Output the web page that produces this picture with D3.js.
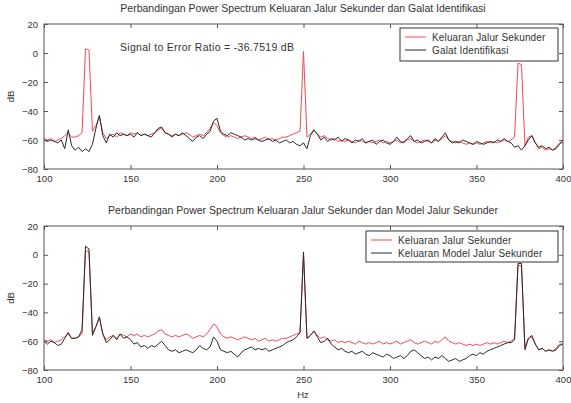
<!DOCTYPE html>
<html>
<head>
<meta charset="utf-8">
<script src="https://cdn.jsdelivr.net/npm/d3@7"></script>
<style>
  body { margin: 0; background: #fff; }
  svg { font-family: "Liberation Sans", Arial, sans-serif; }
</style>
</head>
<body>
<div class="graph"></div>
<script>
// frekuensi (Hz)
const freq = [100,102,104,106,108,110,112,114,116,118,120,122,124,126,128,130,132,134,136,138,
  140,142,144,146,148,150,152,154,156,158,160,162,164,166,168,170,172,174,176,178,
  180,182,184,186,188,190,192,194,196,198,200,202,204,206,208,210,212,214,216,218,
  220,222,224,226,228,230,232,234,236,238,240,242,244,246,248,250,252,254,256,258,
  260,262,264,266,268,270,272,274,276,278,280,282,284,286,288,290,292,294,296,298,
  300,302,304,306,308,310,312,314,316,318,320,322,324,326,328,330,332,334,336,338,
  340,342,344,346,348,350,352,354,356,358,360,362,364,366,368,370,372,374,376,378,
  380,382,384,386,388,390,392,394,396,398,400]

// Keluaran Jalur Sekunder (dB)
const keluaranSekunder = [-59,-60,-59,-61,-60,-59,-57,-55,-58,-58,-57,-55,3,2,-54,-50,-44,-55,-59,-57,
  -56,-58,-55,-56,-57,-55,-56,-55,-57,-56,-57,-56,-55,-53,-52,-55,-56,-57,-56,-57,
  -56,-55,-56,-58,-57,-56,-57,-55,-52,-48,-50,-55,-57,-58,-57,-58,-59,-58,-57,-58,
  -59,-58,-60,-59,-58,-60,-59,-60,-59,-58,-58,-57,-56,-55,-54,1,-58,-56,-53,-56,
  -58,-57,-59,-60,-59,-61,-60,-61,-60,-61,-62,-60,-61,-62,-61,-62,-61,-60,-62,-61,
  -62,-61,-60,-62,-61,-60,-59,-61,-62,-61,-60,-61,-62,-60,-61,-59,-57,-60,-61,-62,
  -61,-62,-63,-62,-63,-62,-63,-62,-61,-62,-61,-62,-61,-60,-61,-60,-58,-7,-8,-64,
  -58,-57,-62,-66,-65,-67,-66,-67,-65,-62,-62]

// Galat Identifikasi (dB)
const galatIdentifikasi = [-60,-61,-60,-61,-62,-60,-66,-53,-64,-67,-65,-68,-66,-68,-63,-52,-43,-57,-62,-56,
  -58,-55,-57,-56,-57,-56,-58,-55,-57,-56,-57,-58,-55,-52,-51,-55,-56,-58,-56,-57,
  -55,-57,-59,-61,-58,-57,-59,-56,-54,-47,-45,-54,-56,-57,-55,-56,-57,-58,-60,-59,
  -60,-59,-60,-61,-60,-59,-61,-60,-62,-61,-60,-62,-61,-63,-64,-62,-66,-57,-53,-56,
  -60,-58,-61,-59,-60,-58,-61,-59,-60,-62,-60,-61,-59,-62,-61,-60,-63,-61,-60,-62,
  -63,-61,-58,-61,-62,-59,-57,-61,-60,-62,-61,-60,-62,-59,-61,-58,-55,-60,-62,-61,
  -62,-60,-61,-62,-63,-61,-62,-63,-62,-61,-62,-60,-61,-59,-61,-62,-65,-64,-67,-64,
  -60,-57,-62,-65,-64,-66,-65,-67,-66,-63,-60]

// Keluaran Model Jalur Sekunder (dB)
const keluaranModel = [-60,-62,-60,-61,-63,-62,-58,-54,-58,-58,-57,-52,6,4,-56,-50,-43,-55,-61,-59,
  -56,-59,-55,-58,-57,-59,-62,-61,-64,-63,-65,-63,-64,-62,-60,-63,-66,-67,-66,-68,
  -67,-66,-67,-68,-66,-63,-65,-66,-64,-57,-60,-66,-67,-68,-67,-69,-71,-68,-66,-65,
  -64,-66,-65,-66,-65,-67,-66,-65,-64,-63,-61,-60,-59,-57,-54,2,-58,-56,-53,-57,
  -61,-60,-58,-62,-64,-66,-65,-67,-68,-67,-69,-68,-67,-69,-70,-68,-69,-70,-71,-69,
  -70,-72,-71,-70,-72,-70,-67,-66,-68,-70,-72,-71,-73,-71,-72,-70,-72,-74,-73,-72,
  -74,-73,-72,-70,-69,-70,-68,-69,-67,-66,-65,-64,-63,-62,-61,-61,-59,-6,-6,-66,
  -58,-56,-62,-66,-65,-67,-66,-67,-66,-63,-62]

const xTicks = [100, 150, 200, 250, 300, 350, 400]
const yTicks = [20, 0, -20, -40, -60, -80]

const width = 571, height = 403
const left = 44, right = 563
const merah = '#f04a58', hitam = '#2a2a2a'

const svg = d3.select('.graph')
  .append('svg')
  .attr('width', width)
  .attr('height', height)

const xScale = d3.scaleLinear().domain([100, 400]).range([left, right])

function panel(top, bottom, judul, seri, legendBox, xLabel) {
  const yScale = d3.scaleLinear().domain([-80, 20]).range([bottom, top])
  const g = svg.append('g')

  // judul
  g.append('text')
    .attr('x', 303).attr('y', top - 12)
    .attr('text-anchor', 'middle')
    .style('font-size', '10.5px')
    .attr('fill', '#333')
    .text(judul)

  // garis data
  const line = d3.line().x((d, i) => xScale(freq[i])).y(d => yScale(d))
  seri.forEach(s => {
    g.append('path')
      .datum(s.values)
      .attr('d', line)
      .attr('fill', 'none')
      .attr('stroke', s.color)
      .attr('stroke-width', 1)
      .attr('stroke-linejoin', 'round')
  })

  // sumbu (gaya MATLAB: tick ke dalam di keempat sisi)
  const xAxisB = d3.axisBottom(xScale).tickValues(xTicks).tickSizeInner(-4).tickSizeOuter(0).tickPadding(6)
  const xAxisT = d3.axisTop(xScale).tickValues(xTicks).tickSizeInner(-4).tickSizeOuter(0).tickFormat('')
  const yAxisL = d3.axisLeft(yScale).tickValues(yTicks).tickSizeInner(-4).tickSizeOuter(0).tickPadding(6)
  const yAxisR = d3.axisRight(yScale).tickValues(yTicks).tickSizeInner(-4).tickSizeOuter(0).tickFormat('')

  g.append('g').attr('transform', `translate(0,${bottom})`).call(xAxisB)
  g.append('g').attr('transform', `translate(0,${top})`).call(xAxisT)
  g.append('g').attr('transform', `translate(${left},0)`).call(yAxisL)
  g.append('g').attr('transform', `translate(${right},0)`).call(yAxisR)

  g.selectAll('.tick text').style('font-size', '9.5px').attr('fill', '#333')
  g.selectAll('.tick line').attr('stroke', '#555')
  g.selectAll('.domain').remove()

  g.append('rect')
    .attr('x', left).attr('y', top)
    .attr('width', right - left).attr('height', bottom - top)
    .attr('fill', 'none').attr('stroke', '#555').attr('stroke-width', 1)

  // label y
  g.append('text')
    .attr('transform', `translate(14,${(top + bottom) / 2}) rotate(-90)`)
    .attr('text-anchor', 'middle')
    .style('font-size', '9.5px')
    .attr('fill', '#333')
    .text('dB')

  if (xLabel) {
    g.append('text')
      .attr('x', 303).attr('y', bottom + 28)
      .attr('text-anchor', 'middle')
      .style('font-size', '9.5px')
      .attr('fill', '#333')
      .text(xLabel)
  }

  // legenda
  const lg = g.append('g')
  lg.append('rect')
    .attr('x', legendBox.x).attr('y', legendBox.y)
    .attr('width', legendBox.w).attr('height', legendBox.h)
    .attr('fill', '#fff').attr('stroke', '#333').attr('stroke-width', 1)
  seri.forEach((s, i) => {
    const yy = legendBox.y + 9 + i * 13
    lg.append('line')
      .attr('x1', legendBox.x + 5).attr('x2', legendBox.x + 26)
      .attr('y1', yy).attr('y2', yy)
      .attr('stroke', s.color).attr('stroke-width', 1)
    lg.append('text')
      .attr('x', legendBox.x + 32).attr('y', yy + 3.5)
      .style('font-size', '10px')
      .style('letter-spacing', '0.15px')
      .attr('fill', '#333')
      .text(s.name)
  })
  return g
}

const atas = panel(24, 169,
  'Perbandingan Power Spectrum Keluaran Jalur Sekunder dan Galat Identifikasi',
  [{ name: 'Keluaran Jalur Sekunder', values: keluaranSekunder, color: merah },
   { name: 'Galat Identifikasi', values: galatIdentifikasi, color: hitam }],
  { x: 400, y: 28, w: 158, h: 33 }, null)

atas.append('text')
  .attr('x', 120).attr('y', 51)
  .style('font-size', '10.5px')
  .style('letter-spacing', '0.3px')
  .attr('fill', '#333')
  .text('Signal to Error Ratio = -36.7519 dB')

panel(226, 370,
  'Perbandingan Power Spectrum Keluaran Jalur Sekunder dan Model Jalur Sekunder',
  [{ name: 'Keluaran Jalur Sekunder', values: keluaranSekunder, color: merah },
   { name: 'Keluaran Model Jalur Sekunder', values: keluaranModel, color: hitam }],
  { x: 366, y: 231, w: 192, h: 31 }, 'Hz')
</script>
</body>
</html>
